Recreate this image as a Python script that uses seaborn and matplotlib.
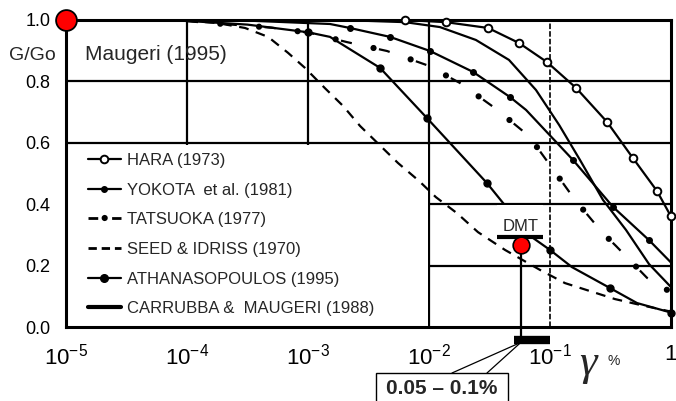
import matplotlib
matplotlib.use("Agg")
import matplotlib.pyplot as plt
import seaborn as sns
from matplotlib.lines import Line2D
from matplotlib.patches import Rectangle, ConnectionPatch
from matplotlib.ticker import NullLocator

# Shear strain (%) and normalised shear modulus G/Go for each decay curve
hara_strain = [1e-5, 0.0063, 0.0138, 0.0308, 0.0555, 0.0944, 0.164, 0.296, 0.485, 0.766, 1.0]
hara_ratio = [1.0, 1.0, 0.993, 0.974, 0.925, 0.863, 0.779, 0.668, 0.550, 0.443, 0.36]
hara_marks = [1, 2, 3, 4, 5, 6, 7, 8, 9, 10]

yokota_strain = [1e-5, 1e-4, 3.2e-4, 0.00152, 0.00222, 0.00476, 0.0102, 0.0231, 0.0467,
                 0.0634, 0.155, 0.332, 0.658, 1.0]
yokota_ratio = [1.0, 1.0, 0.998, 0.987, 0.974, 0.945, 0.899, 0.831, 0.749,
                0.707, 0.544, 0.391, 0.283, 0.21]
yokota_marks = [4, 5, 6, 7, 8, 10, 11, 12]

tatsuoka_strain = [1e-4, 2.34e-4, 5.0e-4, 1.04e-3, 2.10e-3, 4.50e-3, 9.6e-3, 0.018,
                   0.0351, 0.067, 0.104, 0.161, 0.269, 0.351, 0.634, 0.927, 1.0]
tatsuoka_ratio = [0.996, 0.985, 0.975, 0.958, 0.928, 0.899, 0.853, 0.795,
                  0.713, 0.622, 0.518, 0.414, 0.309, 0.264, 0.160, 0.121, 0.112]

seed_strain = [1e-5, 1e-4, 1.78e-4, 3.02e-4, 4.68e-4, 6.84e-4, 9.44e-4, 1.38e-3, 1.95e-3,
               2.69e-3, 5.55e-3, 8.26e-3, 0.0114, 0.017, 0.0254, 0.0425, 0.0826, 0.133,
               0.214, 0.344, 0.555, 1.0]
seed_ratio = [1.0, 0.998, 0.99, 0.974, 0.945, 0.893, 0.844, 0.778, 0.72,
              0.655, 0.534, 0.476, 0.423, 0.371, 0.309, 0.251, 0.186, 0.143,
              0.117, 0.091, 0.072, 0.05]

athan_strain = [1e-5, 1e-4, 3.16e-4, 1e-3, 1.52e-3, 3.94e-3, 9.6e-3, 0.0301, 0.0409,
                0.0724, 0.1, 0.152, 0.313, 0.524, 1.0]
athan_ratio = [1.0, 0.997, 0.985, 0.96, 0.945, 0.844, 0.681, 0.469, 0.404,
               0.29, 0.251, 0.195, 0.127, 0.078, 0.047]
athan_marks = [3, 5, 6, 7, 10, 12, 14]

carrubba_strain = [1e-5, 1e-3, 3.16e-3, 6.34e-3, 0.0123, 0.0244, 0.0458, 0.0766, 0.119,
                   0.177, 0.274, 0.425, 0.658, 1.0]
carrubba_ratio = [1.0, 0.999, 0.997, 0.993, 0.977, 0.935, 0.870, 0.772, 0.658,
                  0.544, 0.414, 0.316, 0.205, 0.13]

legend_labels = ["HARA (1973)", "YOKOTA  et al. (1981)", "TATSUOKA (1977)",
                 "SEED & IDRISS (1970)", "ATHANASOPOULOS (1995)",
                 "CARRUBBA &  MAUGERI (1988)"]

# DMT estimate and its strain range
ref_strain, ref_ratio = 1e-5, 1.0
dmt_strain, dmt_ratio = 0.0575, 0.267
dmt_bar_strain = [0.0365, 0.0875]
dmt_bar_ratio = 0.293
range_strain = [0.05, 0.1]
range_label = "0.05 – 0.1%"

xtick_values = [1e-5, 1e-4, 1e-3, 1e-2, 1e-1, 1.0]
xtick_labels = ["$10^{-5}$", "$10^{-4}$", "$10^{-3}$", "$10^{-2}$", "$10^{-1}$", "1"]
ytick_values = [0.0, 0.2, 0.4, 0.6, 0.8, 1.0]
ytick_labels = ["0.0", "0.2", "0.4", "0.6", "0.8", "1.0"]

sns.set_theme(style="white")
plt.rcParams.update({
    "font.family": ["Liberation Sans", "DejaVu Sans"],
    "mathtext.fontset": "custom",
    "mathtext.rm": "Liberation Sans",
    "mathtext.it": "Liberation Sans:italic",
    "mathtext.bf": "Liberation Sans:bold",
    "lines.scale_dashes": False,
    "axes.edgecolor": "black",
    "xtick.color": "black",
    "ytick.color": "black",
})

fig = plt.figure(figsize=(6.76, 4.01), dpi=100)
ax = fig.add_axes([66 / 676, 1 - 327 / 401, 605 / 676, 307 / 401])
ax.set_xscale("log")
ax.set_xlim(1e-5, 1.0)
ax.set_ylim(0, 1.0)
ax.set_axisbelow(True)

# grid
for v in [1e-4, 1e-3, 1e-2]:
    ax.axvline(v, color="black", lw=1.6, zorder=0.6)
ax.axvline(0.1, color="black", lw=1.2, ls=(0, (4, 1.5)), zorder=0.6)
for h in [0.2, 0.4, 0.6, 0.8]:
    ax.axhline(h, color="black", lw=1.6, zorder=0.6)

# blank panel behind the legend
ax.add_patch(Rectangle((0.004, 0.004), 0.594, 0.589, transform=ax.transAxes,
                       facecolor="white", edgecolor="none", zorder=1))

LW = 1.6
seed_ls = (0, (7, 5.5))
tats_dash = (0, (8, 20))
tats_dot = (4, (0.01, 27.99))

sns.lineplot(x=hara_strain, y=hara_ratio, ax=ax, color="black", lw=LW,
             sort=False, estimator=None, zorder=3)
ax.plot([hara_strain[i] for i in hara_marks], [hara_ratio[i] for i in hara_marks],
        ls="none", marker="o", ms=5.5, mfc="white", mec="black", mew=1.4,
        zorder=4, clip_on=False)

sns.lineplot(x=yokota_strain, y=yokota_ratio, ax=ax, color="black", lw=LW,
             sort=False, estimator=None, zorder=3)
ax.plot([yokota_strain[i] for i in yokota_marks], [yokota_ratio[i] for i in yokota_marks],
        ls="none", marker="o", ms=4, color="black", zorder=4)

sns.lineplot(x=tatsuoka_strain, y=tatsuoka_ratio, ax=ax, color="black", lw=LW,
             linestyle=tats_dash, sort=False, estimator=None, zorder=3)
ax.plot(tatsuoka_strain, tatsuoka_ratio, color="black", lw=4.5, linestyle=tats_dot,
        dash_capstyle="round", zorder=3)

sns.lineplot(x=seed_strain, y=seed_ratio, ax=ax, color="black", lw=LW,
             linestyle=seed_ls, sort=False, estimator=None, zorder=3)

sns.lineplot(x=athan_strain, y=athan_ratio, ax=ax, color="black", lw=LW,
             sort=False, estimator=None, zorder=3)
ax.plot([athan_strain[i] for i in athan_marks], [athan_ratio[i] for i in athan_marks],
        ls="none", marker="o", ms=5, color="black", zorder=4, clip_on=False)

sns.lineplot(x=carrubba_strain, y=carrubba_ratio, ax=ax, color="black", lw=LW,
             sort=False, estimator=None, zorder=3)

# reference point and DMT estimate
ax.plot([ref_strain], [ref_ratio], marker="o", ms=15, mfc="red", mec="black",
        mew=1.3, ls="none", zorder=7, clip_on=False)
ax.add_patch(Rectangle((dmt_bar_strain[0], dmt_bar_ratio),
                       dmt_bar_strain[1] - dmt_bar_strain[0], 0.398 - dmt_bar_ratio,
                       facecolor="white", edgecolor="none", zorder=4.5))
ax.plot([dmt_strain, dmt_strain], [dmt_ratio, -0.042], color="black", lw=1.6,
        zorder=5, clip_on=False)
ax.plot(dmt_bar_strain, [dmt_bar_ratio, dmt_bar_ratio], color="black", lw=3,
        solid_capstyle="butt", zorder=5)
ax.plot([dmt_strain], [dmt_ratio], marker="o", ms=12, mfc="red", mec="black",
        mew=1.2, ls="none", zorder=6)
ax.text(dmt_strain, 0.326, "DMT", ha="center", va="center", fontsize=12, zorder=6)
ax.plot(range_strain, [-0.042, -0.042], color="black", lw=6, solid_capstyle="butt",
        zorder=5, clip_on=False)

# callout box for the strain range
fig.patches.append(Rectangle((376 / 676, -0.1), 132 / 676, 0.1 + 1 - 373 / 401,
                             transform=fig.transFigure, facecolor="white",
                             edgecolor="black", lw=1.0, zorder=1))
fig.text(442 / 676, 1 - 389 / 401, range_label, ha="center", va="center",
         fontsize=15, fontweight="bold", zorder=2)
for xe in [452 / 676, 487 / 676]:
    con = ConnectionPatch(xyA=(dmt_strain, -0.05), coordsA=ax.transData,
                          xyB=(xe, 1 - 373 / 401), coordsB=fig.transFigure,
                          color="black", lw=0.9)
    fig.add_artist(con)

# axes styling
for s in ax.spines.values():
    s.set_linewidth(2.2)
    s.set_color("black")
ax.set_xticks(xtick_values)
ax.set_xticklabels(xtick_labels)
ax.xaxis.set_minor_locator(NullLocator())
ax.set_yticks(ytick_values)
ax.set_yticklabels(ytick_labels)
ax.tick_params(axis="both", direction="out", length=8, width=1.8, color="black")
ax.tick_params(axis="x", labelsize=16, pad=4)
ax.tick_params(axis="y", labelsize=13, pad=3)
ax.set_xlabel("")
ax.set_ylabel("")

fig.text(32 / 676, 1 - 55 / 401, "G/Go", ha="center", va="center", fontsize=14)
ax.text(0.031, 0.886, "Maugeri (1995)", transform=ax.transAxes, ha="left",
        va="center", fontsize=15)
fig.text(588 / 676, 1 - 364 / 401, "γ", ha="center", va="center", fontsize=32,
         family=["Liberation Serif", "DejaVu Serif"], style="italic")
fig.text(614 / 676, 1 - 361 / 401, "%", ha="center", va="center", fontsize=10)

# legend
handles = [
    Line2D([], [], color="black", lw=LW, marker="o", ms=5.5, mfc="white", mec="black", mew=1.4),
    Line2D([], [], color="black", lw=LW, marker="o", ms=4),
    (Line2D([], [], color="black", lw=2, linestyle=(0, (7, 10))),
     Line2D([], [], color="black", lw=4.5, linestyle=(5, (0.01, 16.99)), dash_capstyle="round")),
    Line2D([], [], color="black", lw=2, linestyle=(0, (6, 3.5))),
    Line2D([], [], color="black", lw=LW, marker="o", ms=5.5),
    Line2D([], [], color="black", lw=3),
]
ax.legend(handles, legend_labels, loc="upper left", bbox_to_anchor=(0.036, 0.567),
          frameon=False, fontsize=12, handlelength=2.0, handletextpad=0.35,
          labelspacing=0.88, borderpad=0, borderaxespad=0)

fig.savefig("out.png", dpi=100)
